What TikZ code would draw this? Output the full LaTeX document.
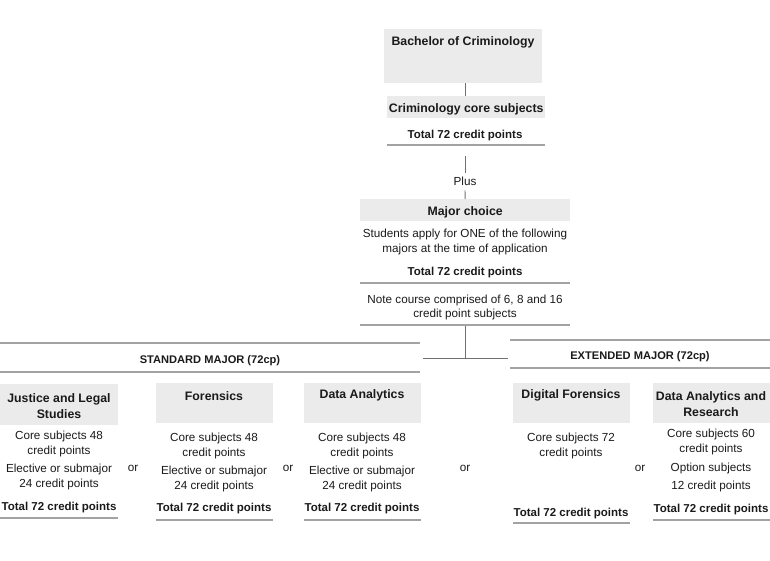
\documentclass[tikz,border=0pt]{standalone}
\usepackage{fontspec}
\setmainfont{Liberation Sans}
\definecolor{boxgray}{HTML}{EBEBEB}
\definecolor{rulegray}{HTML}{A3A3A3}
\definecolor{conngray}{HTML}{707070}
\definecolor{txt}{HTML}{1A1A1A}
\tikzset{
  graybox/.style={fill=boxgray, draw=none, inner sep=0pt, anchor=north west},
  lbl/.style={font=\fontsize{11.7}{14.5}\selectfont, text=txt, align=center, inner sep=0pt, yshift=-1.8pt},
  blbl/.style={lbl, font=\fontsize{11.5}{15.5}\selectfont\bfseries},
  tlbl/.style={lbl, font=\fontsize{12.3}{16}\selectfont\bfseries},
  hlbl/.style={lbl, font=\fontsize{11.1}{15}\selectfont\bfseries},
  rulel/.style={draw=rulegray, line width=1.3pt},
  conn/.style={draw=conngray, line width=0.9pt},
}
\begin{document}
\begin{tikzpicture}[x=1pt,y=-1pt]
\useasboundingbox (0,0) rectangle (770,561);
% --- top part ---
\node[graybox, minimum width=158pt, minimum height=54pt] (bach) at (384,29) {};
\node[tlbl] (bacht) at (463,41) {Bachelor of Criminology};
\node[graybox, minimum width=158pt, minimum height=22pt] (core) at (387,96) {};
\node[tlbl] at (core.center) {Criminology core subjects};
\node[blbl] (coretot) at (465,134) {Total 72 credit points};
\draw[rulel] (387,145) -- (545,145);
\coordinate (c1) at (465,156);
\coordinate (axis) at (465,0);
\node[lbl, inner ysep=4pt] (plus) at (465,180) {Plus};
\node[graybox, minimum width=210pt, minimum height=22pt] (major) at (360,199) {};
\node[tlbl] at (major.center) {Major choice};
\node[lbl] (stud) at (465,240) {Students apply for ONE of the following\\majors at the time of application};
\node[blbl] at (465,271) {Total 72 credit points};
\draw[rulel] (360,283) -- (570,283);
\node[lbl] at (465,305.5) {Note course comprised of 6, 8 and 16\\credit point subjects};
\draw[rulel] (360,325) -- (570,325);
\coordinate (c2) at (465,326);
\coordinate (junc) at (465,358);
\coordinate (jl) at (423,358);
\coordinate (jr) at (508,358);
\draw[conn] (bach.south -| axis) -- (core.north -| axis);
\draw[conn] (c1) -- (plus.north);
\draw[conn] (plus.south) -- (major.north);
\draw[conn] (c2) -- (junc);
\draw[conn] (jl) -- (jr);
% --- standard major header ---
\draw[rulel] (0,343) -- (420,343);
\node[hlbl] at (210,359) {STANDARD MAJOR (72cp)};
\draw[rulel] (0,372) -- (420,372);
% --- extended major header ---
\draw[rulel] (510,340) -- (770,340);
\node[hlbl] at (640,355) {EXTENDED MAJOR (72cp)};
\draw[rulel] (510,368) -- (770,368);
% --- Justice ---
\node[graybox, minimum width=118pt, minimum height=41pt] (just) at (0,384) {};
\node[tlbl] at (59,404) {Justice and Legal\\Studies};
\node[lbl] at (59,442) {Core subjects 48\\credit points};
\node[lbl] at (59,475) {Elective or submajor\\24 credit points};
\node[blbl] at (59,506) {Total 72 credit points};
\draw[rulel] (0,518) -- (118,518);
\node[lbl] at (133,467) {or};
% --- Forensics ---
\node[graybox, minimum width=117pt, minimum height=40pt] (fore) at (156,383) {};
\node[tlbl] at (214,394) {Forensics};
\node[lbl] at (214,444) {Core subjects 48\\credit points};
\node[lbl] at (214,477) {Elective or submajor\\24 credit points};
\node[blbl] at (214,507) {Total 72 credit points};
\draw[rulel] (156,520) -- (273,520);
\node[lbl] at (288,467) {or};
% --- Data Analytics ---
\node[graybox, minimum width=117pt, minimum height=40pt] (data) at (304,383) {};
\node[tlbl] at (362,394) {Data Analytics};
\node[lbl] at (362,444) {Core subjects 48\\credit points};
\node[lbl] at (362,477) {Elective or submajor\\24 credit points};
\node[blbl] at (362,507) {Total 72 credit points};
\draw[rulel] (304,520) -- (421,520);
\node[lbl] at (465,467) {or};
% --- Digital Forensics ---
\node[graybox, minimum width=117pt, minimum height=40pt] (digi) at (513,383) {};
\node[tlbl] at (571,394) {Digital Forensics};
\node[lbl] at (571,444) {Core subjects 72\\credit points};
\node[blbl] at (571,512) {Total 72 credit points};
\draw[rulel] (513,523) -- (630,523);
\node[lbl] at (640,467) {or};
% --- Data Analytics and Research ---
\node[graybox, minimum width=117pt, minimum height=40pt] (dar) at (653,383) {};
\node[tlbl] at (711,402) {Data Analytics and\\Research};
\node[lbl] at (711,440) {Core subjects 60\\credit points};
\node[lbl] at (711,467) {Option subjects};
\node[lbl] at (711,485) {12 credit points};
\node[blbl] at (711,508) {Total 72 credit points};
\draw[rulel] (653,520) -- (770,520);
\end{tikzpicture}
\end{document}
